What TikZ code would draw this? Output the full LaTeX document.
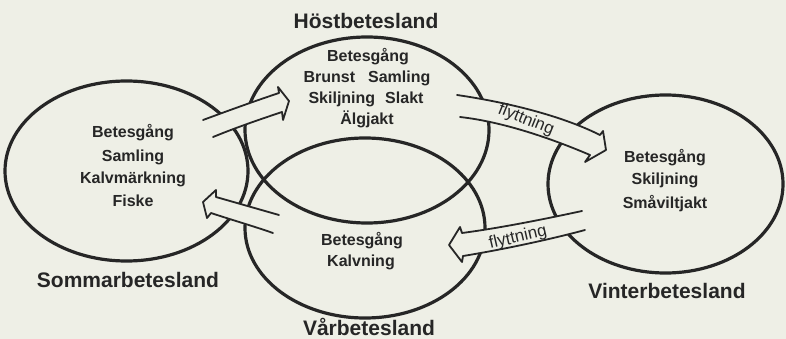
\documentclass[tikz,border=0pt]{standalone}
\usepackage{fontspec}
\setmainfont{Liberation Sans}
\usetikzlibrary{shapes.geometric}
\definecolor{bgc}{HTML}{EEEFE6}
\definecolor{ink}{HTML}{262626}
\begin{document}
\begin{tikzpicture}[x=1pt,y=-1pt,
  region/.style={draw=ink,line width=3.2pt,ellipse,inner sep=0pt,outer sep=0pt},
  title/.style={anchor=base,text=ink,font=\fontsize{21}{24}\selectfont\bfseries},
  act/.style={anchor=base,text=ink,font=\fontsize{16}{18}\selectfont\bfseries},
  blk/.style={draw=ink,line width=1.8pt,line join=round,line cap=round},
  blkfill/.style={fill=bgc},
  lbl/.style={text=ink,inner sep=0pt,font=\fontsize{17}{19}\selectfont}
]
\fill[bgc] (0,0) rectangle (786,339);
\useasboundingbox (0,0) rectangle (786,339);

% regions
\node[region,minimum width=243pt,minimum height=180pt] (sommar) at (126.5,171) {};
\node[region,minimum width=244pt,minimum height=186pt] (host) at (367,130) {};
\node[region,minimum width=240pt,minimum height=180pt] (var) at (365,228) {};
\node[region,minimum width=235pt,minimum height=178pt] (vinter) at (665.5,184) {};

% arrow 1: Sommar -> Höst
\fill[blkfill] (203,120) .. controls (230,110) and (255,101) .. (279,93) -- (278,87) -- (289,101) -- (283,120) -- (282,112) .. controls (258,120) and (235,128) .. (213,137) -- cycle;
\draw[blk] (203,120) .. controls (230,110) and (255,101) .. (279,93) -- (278,87) -- (289,101) -- (283,120) -- (282,112) .. controls (258,120) and (235,128) .. (213,137);

% arrow 2: Höst -> Vinter
\fill[blkfill] (457,95) .. controls (505,102) and (560,115) .. (600,135) -- (603,131) -- (606,150) -- (585,162) -- (590,155) .. controls (555,140) and (505,122) .. (460,117) -- cycle;
\draw[blk] (457,95) .. controls (505,102) and (560,115) .. (600,135) -- (603,131) -- (606,150) -- (585,162) -- (590,155) .. controls (555,140) and (505,122) .. (460,117);
\node[lbl,rotate=-22] (f1) at (526,120) {flyttning};

% arrow 3: Vinter -> Vår
\fill[blkfill] (582,211) .. controls (545,219) and (500,228) .. (462,233) -- (460,227) -- (449,245) -- (462,262) -- (463,256) .. controls (500,250) and (548,240) .. (585,230) -- cycle;
\draw[blk] (582,211) .. controls (545,219) and (500,228) .. (462,233) -- (460,227) -- (449,245) -- (462,262) -- (463,256) .. controls (500,250) and (548,240) .. (585,230);
\node[lbl,rotate=13] (f2) at (518,238) {flyttning};

% arrow 4: Vår -> Sommar
\fill[blkfill] (279,215) .. controls (258,209) and (237,203) .. (216,197) -- (216,190) -- (203,202) -- (207,218) -- (211,213) .. controls (232,220) and (253,226) .. (273,233) -- cycle;
\draw[blk] (279,215) .. controls (258,209) and (237,203) .. (216,197) -- (216,190) -- (203,202) -- (207,218) -- (211,213) .. controls (232,220) and (253,226) .. (273,233);

% titles
\node[title] (tHost) at (366,29) {Höstbetesland};
\node[title] (tSommar) at (128,287) {Sommarbetesland};
\node[title] (tVar) at (369,335) {Vårbetesland};
\node[title] (tVinter) at (667,298) {Vinterbetesland};

% Höst activities
\node[act] (h1) at (368,62) {Betesgång};
\node[act] (h2) at (367,83) {Brunst\hspace{13pt}Samling};
\node[act] (h3) at (366,104) {Skiljning\hspace{10pt}Slakt};
\node[act] (h4) at (367,125) {Älgjakt};

% Sommar activities
\node[act] (s1) at (133,138) {Betesgång};
\node[act] (s2) at (133,161) {Samling};
\node[act] (s3) at (133,183) {Kalvmärkning};
\node[act] (s4) at (133,206) {Fiske};

% Vår activities
\node[act] (v1) at (362,245) {Betesgång};
\node[act] (v2) at (361,266) {Kalvning};

% Vinter activities
\node[act] (w1) at (665,163) {Betesgång};
\node[act] (w2) at (665,184) {Skiljning};
\node[act] (w3) at (665,208) {Småviltjakt};
\end{tikzpicture}
\end{document}
